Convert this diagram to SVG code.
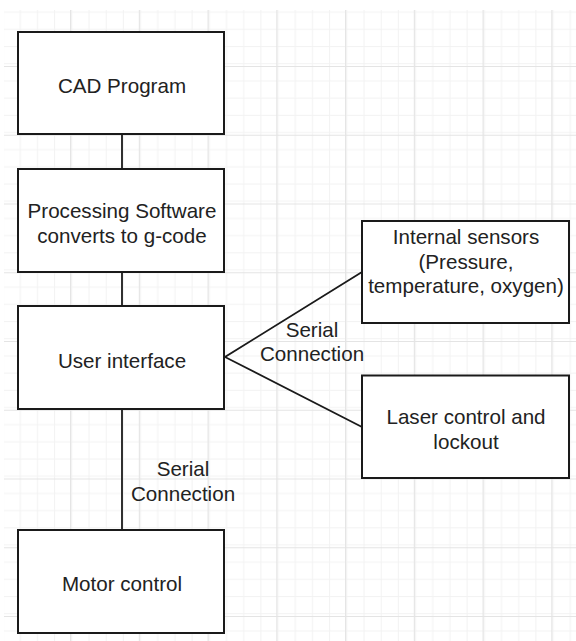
<svg xmlns="http://www.w3.org/2000/svg" width="576" height="641" viewBox="0 0 576 641">
<defs>
<pattern id="minor" patternUnits="userSpaceOnUse" x="1.3" y="-2.75" width="17.1875" height="17.1875">
<path d="M0.5 0 V17.1875 M0 0.5 H17.1875" fill="none" stroke="#f2f2f2" stroke-width="1"/>
</pattern>
<pattern id="major" patternUnits="userSpaceOnUse" x="1.3" y="-2.75" width="68.75" height="68.75">
<rect width="68.75" height="68.75" fill="url(#minor)"/>
<path d="M0.5 0 V68.75 M0 0.5 H68.75" fill="none" stroke="#e4e4e4" stroke-width="1.2"/>
</pattern>
</defs>
<style>
.box { fill: #ffffff; stroke: #1a1a1a; stroke-width: 2; }
.t { font-family: "Liberation Sans", Arial, sans-serif; font-size: 20.6px; fill: #222222; text-anchor: middle; }
.edge { stroke: #1a1a1a; stroke-width: 1.8; fill: none; }
</style>
<rect x="0" y="0" width="576" height="641" fill="#ffffff"/>
<rect x="4" y="10" width="572" height="631" fill="url(#major)"/>

<g id="connectors">
<line class="edge" x1="122" y1="134" x2="122" y2="169"/>
<line class="edge" x1="122" y1="272" x2="122" y2="306"/>
<line class="edge" x1="122" y1="409" x2="122" y2="530"/>
<polyline class="edge" points="362,272 225,357 362,427"/>
<text class="t" x="312" y="337">Serial</text>
<text class="t" x="312" y="361">Connection</text>
<text class="t" x="183" y="476">Serial</text>
<text class="t" x="183" y="501">Connection</text>
</g>

<g id="cad">
<rect class="box" x="18" y="32" width="206" height="102"/>
<text class="t" x="122" y="92.5">CAD Program</text>
</g>

<g id="processing">
<rect class="box" x="18" y="169" width="206" height="103"/>
<text class="t" x="122" y="218">Processing Software</text>
<text class="t" x="122" y="242.5">converts to g-code</text>
</g>

<g id="ui">
<rect class="box" x="18" y="306" width="206" height="103"/>
<text class="t" x="122" y="367.5">User interface</text>
</g>

<g id="motor">
<rect class="box" x="18" y="530" width="206" height="103"/>
<text class="t" x="122" y="590.5">Motor control</text>
</g>

<g id="sensors">
<rect class="box" x="362" y="221" width="207" height="102"/>
<text class="t" x="466" y="244">Internal sensors</text>
<text class="t" x="466" y="268.5">(Pressure,</text>
<text class="t" x="466" y="293">temperature, oxygen)</text>
</g>

<g id="laser">
<rect class="box" x="362" y="375.5" width="207" height="102.5"/>
<text class="t" x="466" y="424">Laser control and</text>
<text class="t" x="466" y="448.5">lockout</text>
</g>
</svg>
